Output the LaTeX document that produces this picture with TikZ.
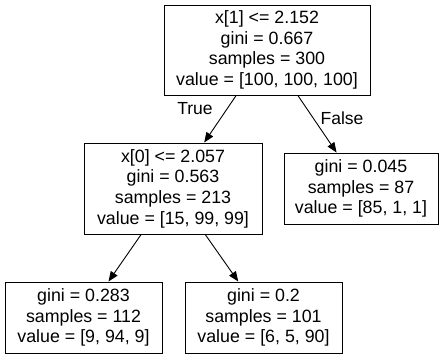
\documentclass[tikz,border=0pt]{standalone}
\usepackage{fontspec}
\setmainfont{Liberation Sans}
\usetikzlibrary{arrows.meta}
\begin{document}
\begin{tikzpicture}[x=1pt,y=-1pt,
  treenode/.style={draw=black,line width=1pt,inner sep=0pt,align=center,
    font=\fontsize{17.8}{20.7}\selectfont},
  edgelabel/.style={inner sep=0pt,font=\fontsize{17.5}{20.7}\selectfont},
  edge/.style={line width=0.9pt,-{Triangle[length=10pt,width=8pt]}}]
\useasboundingbox (0,0) rectangle (447,359);
\node[treenode,minimum width=206pt,minimum height=90pt] (root) at (267,50)
  {x[1] <= 2.152\\gini = 0.667\\samples = 300\\value = [100, 100, 100]};
\node[treenode,minimum width=178pt,minimum height=91pt] (left) at (173,188.5)
  {x[0] <= 2.057\\gini = 0.563\\samples = 213\\value = [15, 99, 99]};
\node[treenode,minimum width=154pt,minimum height=71pt] (right) at (361,188.5)
  {gini = 0.045\\samples = 87\\value = [85, 1, 1]};
\node[treenode,minimum width=157pt,minimum height=71pt] (ll) at (83.5,317.5)
  {gini = 0.283\\samples = 112\\value = [9, 94, 9]};
\node[treenode,minimum width=157pt,minimum height=71pt] (lr) at (263.5,317.5)
  {gini = 0.2\\samples = 101\\value = [6, 5, 90]};
\draw[edge] (root) -- (left);
\draw[edge] (root) -- (right);
\draw[edge] (left) -- (ll);
\draw[edge] (left) -- (lr);
\node[edgelabel] (truelab) at (195,109) {True};
\node[edgelabel] (falselab) at (342,118) {False};
\end{tikzpicture}
\end{document}
